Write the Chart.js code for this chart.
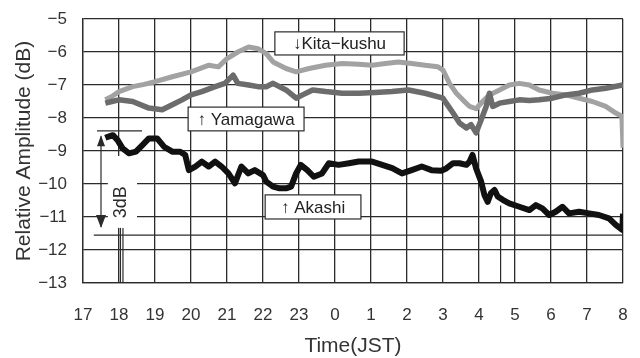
<!DOCTYPE html>
<html>
<head>
<meta charset="utf-8">
<script src="https://cdn.jsdelivr.net/npm/chart.js@4"></script>
<style>
  html, body { margin: 0; padding: 0; background: #fff; overflow: hidden; }
  #wrap { width: 640px; height: 358px; }
  canvas { display: block; }
</style>
</head>
<body>
<div id="wrap"><canvas id="grafico" width="640" height="358"></canvas></div>
<script>
// hours counted from 17h, past midnight continues as 24, 25 ...
const hourLabels = ["17", "18", "19", "20", "21", "22", "23", "0", "1", "2", "3", "4", "5", "6", "7", "8"];
const dbLabels = ["−13", "−12", "−11", "−10", "−9", "−8", "−7", "−6", "−5"];

const kitaTime = [17.62, 17.8, 18.0, 18.38, 18.7, 19.0, 19.48, 20.0, 20.5, 20.76, 21.0, 21.3, 21.6, 21.86, 22.09,
  22.28, 22.64, 22.92, 23.28, 23.74, 24.2, 24.66, 25.03, 25.4, 25.76, 26.13, 26.5, 26.86, 27.0, 27.18, 27.37,
  27.55, 27.74, 27.92, 28.1, 28.29, 28.57, 28.84, 29.12, 29.4, 29.67, 30.04, 30.41, 30.78, 31.15, 31.52, 31.8,
  31.97, 32.0];
const kitaDb = [-7.45, -7.35, -7.2, -7.05, -6.98, -6.9, -6.75, -6.6, -6.4, -6.45, -6.2, -6.0, -5.85, -5.9, -6.05,
  -6.3, -6.5, -6.6, -6.5, -6.4, -6.35, -6.37, -6.4, -6.35, -6.3, -6.35, -6.4, -6.45, -6.55, -6.95, -7.25,
  -7.45, -7.65, -7.72, -7.5, -7.3, -7.15, -7.0, -6.95, -7.0, -7.15, -7.25, -7.3, -7.4, -7.5, -7.65, -7.85,
  -7.95, -8.9];

const yamaTime = [17.62, 17.8, 18.0, 18.38, 18.83, 19.2, 19.48, 19.75, 20.0, 20.3, 20.67, 20.94, 21.17, 21.3, 21.6,
  21.86, 22.09, 22.28, 22.64, 22.92, 23.1, 23.38, 23.74, 24.2, 24.66, 25.12, 25.58, 26.04, 26.5, 27.0, 27.09,
  27.28, 27.46, 27.65, 27.78, 27.92, 28.06, 28.2, 28.29, 28.38, 28.57, 28.84, 29.12, 29.4, 29.67, 30.04, 30.41,
  30.78, 31.15, 31.52, 32.0];
const yamaDb = [-7.55, -7.5, -7.45, -7.5, -7.7, -7.75, -7.6, -7.45, -7.3, -7.2, -7.05, -6.95, -6.7, -6.95, -7.0,
  -7.05, -7.05, -6.95, -7.15, -7.4, -7.3, -7.15, -7.2, -7.25, -7.25, -7.23, -7.2, -7.15, -7.25, -7.4, -7.55,
  -7.85, -8.15, -8.3, -8.2, -8.45, -8.05, -7.65, -7.25, -7.65, -7.55, -7.5, -7.45, -7.47, -7.45, -7.4, -7.3,
  -7.25, -7.15, -7.1, -7.0];

const akashiTime = [17.62, 17.69, 17.83, 17.96, 18.1, 18.28, 18.47, 18.65, 18.83, 19.06, 19.25, 19.48, 19.7, 19.84,
  19.94, 20.12, 20.3, 20.49, 20.67, 20.85, 21.04, 21.22, 21.4, 21.59, 21.77, 22.0, 22.09, 22.28, 22.46, 22.64,
  22.78, 22.92, 23.05, 23.23, 23.41, 23.64, 23.83, 24.1, 24.39, 24.66, 25.03, 25.31, 25.59, 25.86, 26.13, 26.41,
  26.68, 26.95, 27.09, 27.28, 27.46, 27.65, 27.74, 27.82, 27.92, 28.06, 28.15, 28.24, 28.33, 28.43, 28.52, 28.66,
  28.84, 29.12, 29.4, 29.58, 29.76, 29.95, 30.13, 30.32, 30.5, 30.78, 31.06, 31.33, 31.61, 31.8, 31.98, 32.0];
const akashiDb = [-8.6, -8.57, -8.52, -8.67, -8.92, -9.07, -9.02, -8.82, -8.62, -8.62, -8.87, -9.02, -9.02, -9.12,
  -9.58, -9.47, -9.32, -9.47, -9.32, -9.47, -9.68, -9.98, -9.47, -9.68, -9.58, -9.73, -9.93, -10.08, -10.13, -10.13,
  -10.08, -9.68, -9.42, -9.58, -9.78, -9.68, -9.37, -9.42, -9.37, -9.32, -9.32, -9.42, -9.52, -9.68, -9.58, -9.47,
  -9.58, -9.6, -9.53, -9.37, -9.37, -9.42, -9.32, -9.12, -9.53, -9.93, -10.33, -10.54, -10.28, -10.18, -10.38, -10.48,
  -10.59, -10.69, -10.79, -10.64, -10.74, -10.94, -10.84, -10.69, -10.89, -10.84, -10.89, -10.94, -11.04, -11.24, -11.39, -10.9];

// annotations, in data units
const labelBoxes = [
  { text: "↓Kita−kushu", x0: 22.33, x1: 25.92, y0: -5.39, y1: -6.09 },
  { text: "↑ Yamagawa", x0: 19.92, x1: 23.14, y0: -7.67, y1: -8.39 },
  { text: "↑ Akashi", x0: 22.06, x1: 24.72, y0: -10.33, y1: -11.06 },
];
const refLines = [
  { x0: 17.39, x1: 18.64, y0: -8.39, y1: -8.39 },
  { x0: 17.3, x1: 32.0, y0: -11.55, y1: -11.55 },
  { x0: 17.5, x1: 17.5, y0: -8.55, y1: -11.3 },
  { x0: 18.04, x1: 18.04, y0: -11.33, y1: -13 },
  { x0: 18.11, x1: 18.11, y0: -11.33, y1: -13 },
  { x0: 28.6, x1: 28.6, y0: -10.65, y1: -13 },
];

const INK = "#2b2b2b";

function pontos(tempos, valores) {
  return tempos.map((t, i) => ({ x: t, y: valores[i] }));
}

const anotacoes = {
  id: "anotacoes",
  beforeDatasetsDraw(chart) {
    const { ctx, scales: { x, y } } = chart;
    ctx.save();
    // white patch where the 3dB label cuts the grid
    const px0 = x.getPixelForValue(17.69), px1 = x.getPixelForValue(18.5);
    const py0 = y.getPixelForValue(-9.15), py1 = y.getPixelForValue(-11.33);
    ctx.fillStyle = "#fff";
    ctx.fillRect(px0, py0, px1 - px0, py1 - py0);

    ctx.strokeStyle = INK;
    ctx.lineWidth = 1.2;
    refLines.forEach((l) => {
      ctx.beginPath();
      ctx.moveTo(x.getPixelForValue(l.x0), y.getPixelForValue(l.y0));
      ctx.lineTo(x.getPixelForValue(l.x1), y.getPixelForValue(l.y1));
      ctx.stroke();
    });

    // arrow heads of the 3dB marker
    const ax = x.getPixelForValue(17.5);
    const top = y.getPixelForValue(-8.52);
    const bot = y.getPixelForValue(-11.33);
    ctx.fillStyle = INK;
    ctx.beginPath();
    ctx.moveTo(ax, top);
    ctx.lineTo(ax - 4, top + 11);
    ctx.lineTo(ax + 4, top + 11);
    ctx.closePath();
    ctx.fill();
    ctx.beginPath();
    ctx.moveTo(ax, bot);
    ctx.lineTo(ax - 5, bot - 13);
    ctx.lineTo(ax + 5, bot - 13);
    ctx.closePath();
    ctx.fill();

    ctx.translate(x.getPixelForValue(18.05), y.getPixelForValue(-10.55));
    ctx.rotate(-Math.PI / 2);
    ctx.font = "18px 'Liberation Sans'";
    ctx.textAlign = "center";
    ctx.textBaseline = "middle";
    ctx.fillText("3dB", 0, 0);
    ctx.restore();
  },
  afterDatasetsDraw(chart) {
    const { ctx, scales: { x, y } } = chart;
    ctx.save();
    ctx.font = "17px 'Liberation Sans'";
    ctx.textAlign = "center";
    ctx.textBaseline = "middle";
    labelBoxes.forEach((b) => {
      const l = x.getPixelForValue(b.x0), r = x.getPixelForValue(b.x1);
      const t = y.getPixelForValue(b.y0), bt = y.getPixelForValue(b.y1);
      ctx.fillStyle = "#fff";
      ctx.fillRect(l, t, r - l, bt - t);
      ctx.strokeStyle = INK;
      ctx.lineWidth = 1.2;
      ctx.strokeRect(l, t, r - l, bt - t);
      ctx.fillStyle = "#222";
      ctx.fillText(b.text, (l + r) / 2, (t + bt) / 2 + 1);
    });
    ctx.restore();
  },
};

Chart.defaults.font.family = "'Liberation Sans', Arial, sans-serif";
Chart.defaults.color = "#333";

new Chart(document.getElementById("grafico"), {
  type: "line",
  data: {
    datasets: [
      {
        label: "Akashi",
        data: pontos(akashiTime, akashiDb),
        borderColor: "#111",
        borderWidth: 6,
        order: 1,
      },
      {
        label: "Yamagawa",
        data: pontos(yamaTime, yamaDb),
        borderColor: "#6c6c6c",
        borderWidth: 5.5,
        order: 2,
      },
      {
        label: "Kita-kushu",
        data: pontos(kitaTime, kitaDb),
        borderColor: "#a2a2a2",
        borderWidth: 5,
        order: 3,
      },
    ],
  },
  options: {
    responsive: false,
    animation: false,
    parsing: false,
    layout: { padding: { top: 19, right: 17, left: 0, bottom: 0 } },
    elements: {
      point: { radius: 0 },
      line: { tension: 0, borderJoinStyle: "round", borderCapStyle: "butt" },
    },
    plugins: { legend: { display: false }, tooltip: { enabled: false } },
    scales: {
      x: {
        type: "linear",
        min: 17,
        max: 32,
        afterFit: (s) => { s.height = 75; },
        ticks: {
          stepSize: 1,
          autoSkip: false,
          maxRotation: 0,
          padding: 0,
          font: { size: 17 },
          color: "#333",
          callback: (v) => hourLabels[v - 17],
        },
        grid: { color: INK, lineWidth: 1.3, drawTicks: true, tickLength: 22, tickColor: "rgba(0,0,0,0)" },
        border: { color: INK, width: 1.3 },
        title: {
          display: true,
          text: "Time(JST)",
          font: { size: 21, lineHeight: 1 },
          color: "#333",
          padding: { top: 0, bottom: 1 },
        },
      },
      y: {
        min: -13,
        max: -5,
        afterFit: (s) => { s.width = 83; },
        ticks: {
          stepSize: 1,
          padding: 0,
          font: { size: 17 },
          color: "#333",
          callback: (v) => dbLabels[v + 13],
        },
        grid: { color: INK, lineWidth: 1.3, drawTicks: true, tickLength: 16, tickColor: "rgba(0,0,0,0)" },
        border: { color: INK, width: 1.3 },
        title: {
          display: true,
          text: "Relative Amplitude (dB)",
          font: { size: 21, lineHeight: 1 },
          color: "#333",
          padding: { top: 14, bottom: 0 },
        },
      },
    },
  },
  plugins: [anotacoes],
});
</script>
</body>
</html>
